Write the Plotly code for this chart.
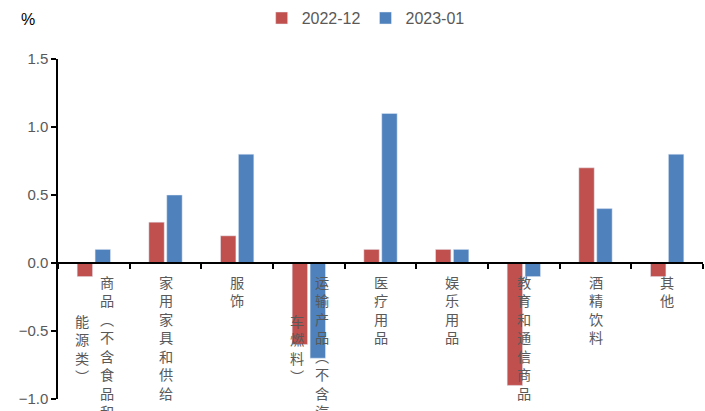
import plotly.graph_objects as go

categories = ["商品(不含食品和能源类)", "家用家具和供给", "服饰", "运输产品(不含汽车燃料)",
              "医疗用品", "娱乐用品", "教育和通信商品", "酒精饮料", "其他"]
series_names = ["2022-12", "2023-01"]
v_2212 = [-0.1, 0.3, 0.2, -0.6, 0.1, 0.1, -0.9, 0.7, -0.1]
v_2301 = [0.1, 0.5, 0.8, -0.7, 1.1, 0.1, -0.1, 0.4, 0.8]
y_ticks = [-1.0, -0.5, 0.0, 0.5, 1.0, 1.5]

RED = "#C0504D"
BLUE = "#4F81BD"
GREY = "#595959"
NUM_FONT = "Liberation Sans, Arial, sans-serif"
CJK_FONT = "Noto Sans CJK SC, sans-serif"
LBL_SIZE = 14.2

fig = go.Figure()
fig.add_trace(go.Bar(x=categories, y=v_2212, name=series_names[0], marker_color=RED))
fig.add_trace(go.Bar(x=categories, y=v_2301, name=series_names[1], marker_color=BLUE))


def vertical(s):
    s = s.replace("(", "︵").replace(")", "︶")
    return "<br>".join(list(s))


annotations = []
MAXCOL = 8
for c in categories:
    cols = [c[i:i + MAXCOL] for i in range(0, len(c), MAXCOL)]
    lf = dict(family=CJK_FONT, size=LBL_SIZE, color=GREY)
    if len(cols) == 1:
        annotations.append(dict(x=c, xref="x", y=-0.05, yref="y", yanchor="top",
                                text=vertical(cols[0]), showarrow=False, font=lf))
    else:
        annotations.append(dict(x=c, xref="x", xshift=13, y=-0.05, yref="y", yanchor="top",
                                text=vertical(cols[0]), showarrow=False, font=lf))
        annotations.append(dict(x=c, xref="x", xshift=-12, y=-0.335, yref="y", yanchor="top",
                                text=vertical(cols[1]), showarrow=False, font=lf))

annotations.append(dict(xref="paper", x=-0.0465, yref="paper", y=1.115,
                        xanchor="center", yanchor="middle", text="%", showarrow=False,
                        font=dict(family=NUM_FONT, size=16, color="#000000")))

ymin, ymax = -1.0, 1.5
zero_pos = (0 - ymin) / (ymax - ymin)

fig.update_layout(
    width=705, height=411,
    margin=dict(l=58, r=2, t=58, b=12),
    paper_bgcolor="white", plot_bgcolor="white",
    barmode="group", bargap=0.5, bargroupgap=0.14,
    showlegend=True,
    legend=dict(orientation="h", x=0.477, xanchor="center", y=1.117, yanchor="middle",
                font=dict(family=NUM_FONT, size=16, color=GREY),
                itemwidth=30, traceorder="normal"),
    xaxis=dict(type="category", anchor="free", position=zero_pos,
               showline=True, linecolor="black", linewidth=1.5,
               ticks="outside", tickson="boundaries", ticklen=5, tickcolor="black",
               tickwidth=1.5, showticklabels=False, showgrid=False, zeroline=False),
    yaxis=dict(range=[ymin, ymax], tickvals=y_ticks, tickformat=".1f",
               showline=True, linecolor="black", linewidth=1.5,
               ticks="outside", ticklen=5, tickcolor="black", tickwidth=1.5,
               showgrid=False, zeroline=False,
               tickfont=dict(family=NUM_FONT, size=15, color=GREY)),
    annotations=annotations,
)

fig.write_html("out.html")
